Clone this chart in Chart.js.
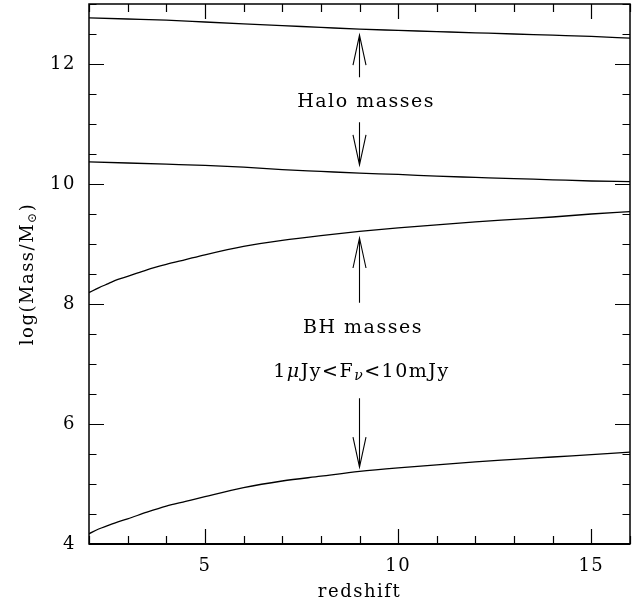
<!DOCTYPE html>
<html>
<head>
<meta charset="utf-8">
<script src="https://cdn.jsdelivr.net/npm/chart.js@4.4.0/dist/chart.umd.min.js"></script>
<style>
  html, body { margin: 0; padding: 0; background: #fff; }
  canvas { display: block; }
</style>
</head>
<body>
<canvas id="massChart" width="644" height="605"></canvas>
<script>
// redshift samples for each curve
var haloZ = [2, 3, 4, 5, 6, 7, 8, 9, 10, 11, 12, 13, 14, 15, 16];
var haloUpper = [12.77, 12.75, 12.73, 12.70, 12.67, 12.64, 12.61, 12.58, 12.56, 12.54, 12.52, 12.50, 12.48, 12.46, 12.43];
var haloLower = [10.37, 10.35, 10.33, 10.31, 10.28, 10.24, 10.21, 10.18, 10.16, 10.13, 10.11, 10.09, 10.07, 10.05, 10.04];

var bhZ = [2, 2.25, 2.5, 2.75, 3, 3.5, 4, 4.5, 5, 6, 7, 8, 9, 10, 11, 12, 13, 14, 15, 16];
var bhUpper = [8.19, 8.27, 8.34, 8.41, 8.46, 8.57, 8.66, 8.74, 8.82, 8.96, 9.06, 9.14, 9.21, 9.27, 9.32, 9.37, 9.41, 9.45, 9.50, 9.54];
var bhLower = [4.17, 4.25, 4.31, 4.37, 4.42, 4.53, 4.63, 4.71, 4.79, 4.94, 5.05, 5.13, 5.21, 5.27, 5.32, 5.37, 5.41, 5.45, 5.49, 5.53];

// tick labels
var xTickLabels = [5, 10, 15];
var yTickLabels = [4, 6, 8, 10, 12];

// arrows at z = 9 (from -> to, in log mass)
var arrowZ = 9;
var arrowFrom = [11.78, 11.03, 8.02, 6.43];
var arrowTo = [12.48, 10.32, 9.10, 5.28];

var FONT = "'DejaVu Serif', 'Liberation Serif', serif";

function pairs(xs, ys) {
    return xs.map(function(x, i) { return { x: x, y: ys[i] }; });
}

function curve(label, xs, ys) {
    return {
        label: label,
        data: pairs(xs, ys),
        borderColor: '#000',
        borderWidth: 1.3,
        pointRadius: 0,
        fill: false,
        cubicInterpolationMode: 'monotone'
    };
}

// wider letter spacing, the original font is a plotter font
var spacing = {
    id: 'spacing',
    beforeDraw: function(chart) { chart.ctx.letterSpacing = '1.5px'; }
};

// frame, inward ticks, arrows and the text inside the plot
var decorations = {
    id: 'decorations',
    afterDraw: function(chart) {
        var ctx = chart.ctx;
        var a = chart.chartArea;
        var xs = chart.scales.x, ys = chart.scales.y;
        ctx.save();
        ctx.strokeStyle = '#000';
        ctx.fillStyle = '#000';
        ctx.letterSpacing = '1.5px';

        // frame
        ctx.lineWidth = 1.5;
        ctx.strokeRect(a.left, a.top, a.right - a.left, a.bottom - a.top);
        ctx.lineWidth = 2.2;
        ctx.beginPath();
        ctx.moveTo(a.left, a.bottom);
        ctx.lineTo(a.right, a.bottom);
        ctx.stroke();

        // ticks on all four sides
        ctx.lineWidth = 1.2;
        ctx.beginPath();
        for (var z = xs.min; z <= xs.max; z += 1) {
            var px = Math.round(xs.getPixelForValue(z)) + 0.5;
            var len = (z % 5 === 0) ? 15 : 8;
            ctx.moveTo(px, a.bottom); ctx.lineTo(px, a.bottom - len);
            ctx.moveTo(px, a.top); ctx.lineTo(px, a.top + len);
        }
        for (var m = ys.min; m <= ys.max; m += 0.5) {
            var py = Math.round(ys.getPixelForValue(m)) + 0.5;
            var l2 = (m % 2 === 0) ? 15 : 7.5;
            ctx.moveTo(a.left, py); ctx.lineTo(a.left + l2, py);
            ctx.moveTo(a.right, py); ctx.lineTo(a.right - l2, py);
        }
        ctx.stroke();

        // arrows
        ctx.lineWidth = 1.1;
        var ax = xs.getPixelForValue(arrowZ);
        arrowFrom.forEach(function(v, i) {
            var y0 = ys.getPixelForValue(v);
            var y1 = ys.getPixelForValue(arrowTo[i]);
            var dir = y1 < y0 ? 1 : -1;
            ctx.beginPath();
            ctx.moveTo(ax, y0);
            ctx.lineTo(ax, y1);
            ctx.moveTo(ax - 6.5, y1 + dir * 30);
            ctx.lineTo(ax, y1);
            ctx.lineTo(ax + 6.5, y1 + dir * 30);
            ctx.stroke();
        });

        // labels
        ctx.font = '19px ' + FONT;
        ctx.textAlign = 'center';
        ctx.textBaseline = 'middle';
        ctx.fillText('Halo masses', xs.getPixelForValue(9.17), ys.getPixelForValue(11.37));
        ctx.fillText('BH masses', xs.getPixelForValue(9.09), ys.getPixelForValue(7.6));

        // 1μJy<Fν<10mJy with subscript nu
        var parts = [
            { t: '1', f: '19px ' + FONT, dy: 0 },
            { t: 'μ', f: 'italic 19px ' + FONT, dy: 0 },
            { t: 'Jy<F', f: '19px ' + FONT, dy: 0 },
            { t: 'ν', f: 'italic 14px ' + FONT, dy: 5 },
            { t: '<10mJy', f: '19px ' + FONT, dy: 0 }
        ];
        var total = 0;
        parts.forEach(function(p) { ctx.font = p.f; p.w = ctx.measureText(p.t).width; total += p.w; });
        var tx = xs.getPixelForValue(9.05) - total / 2;
        var ty = ys.getPixelForValue(6.87);
        ctx.textAlign = 'left';
        parts.forEach(function(p) {
            ctx.font = p.f;
            ctx.fillText(p.t, tx, ty + p.dy);
            tx += p.w;
        });

        // y axis title: log(Mass/M_sun)
        ctx.translate(28, (a.top + a.bottom) / 2);
        ctx.rotate(-Math.PI / 2);
        var yt = [
            { t: 'log(Mass/M', f: '18px ' + FONT, dy: 0 },
            { t: '⊙', f: '12px ' + FONT, dy: 5 },
            { t: ')', f: '18px ' + FONT, dy: 0 }
        ];
        var tw = 0;
        yt.forEach(function(p) { ctx.font = p.f; p.w = ctx.measureText(p.t).width; tw += p.w; });
        var cx = -tw / 2;
        yt.forEach(function(p) {
            ctx.font = p.f;
            ctx.fillText(p.t, cx, p.dy);
            cx += p.w;
        });
        ctx.restore();
    }
};

new Chart(document.getElementById('massChart'), {
    type: 'line',
    data: {
        datasets: [
            curve('Halo upper', haloZ, haloUpper),
            curve('Halo lower', haloZ, haloLower),
            curve('BH upper', bhZ, bhUpper),
            curve('BH lower', bhZ, bhLower)
        ]
    },
    options: {
        responsive: false,
        animation: false,
        layout: { padding: { top: 4, right: 14, left: 0, bottom: 0 } },
        plugins: { legend: { display: false }, tooltip: { enabled: false } },
        scales: {
            x: {
                type: 'linear',
                min: 2,
                max: 16,
                grid: { display: false, drawTicks: false },
                border: { display: false },
                afterBuildTicks: function(s) { s.ticks = xTickLabels.map(function(v) { return { value: v }; }); },
                afterFit: function(s) { s.height = 61; s.paddingLeft = 0; s.paddingRight = 0; },
                ticks: { color: '#000', padding: 12, maxRotation: 0, font: { family: FONT, size: 18 } },
                title: {
                    display: true,
                    text: 'redshift',
                    color: '#000',
                    padding: { top: 0, bottom: 2 },
                    font: { family: FONT, size: 18 }
                }
            },
            y: {
                min: 4,
                max: 13,
                grid: { display: false, drawTicks: false },
                border: { display: false },
                afterBuildTicks: function(s) { s.ticks = yTickLabels.map(function(v) { return { value: v }; }); },
                afterFit: function(s) { s.width = 89; s.paddingTop = 0; s.paddingBottom = 0; },
                ticks: { color: '#000', padding: 13, font: { family: FONT, size: 18 } }
            }
        }
    },
    plugins: [spacing, decorations]
});
</script>
</body>
</html>
